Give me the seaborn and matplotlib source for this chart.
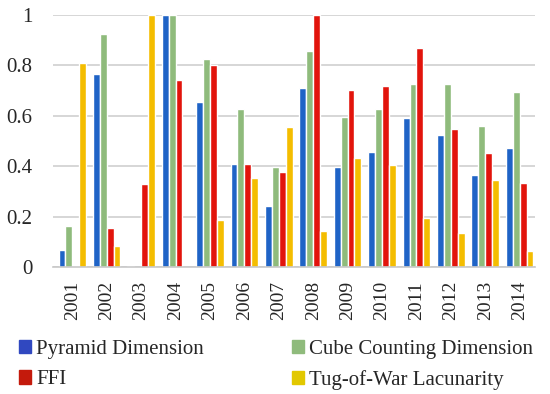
import numpy as np
import pandas as pd
import seaborn as sns
import matplotlib.pyplot as plt
from matplotlib.patches import Patch

years = ['2001', '2002', '2003', '2004', '2005', '2006', '2007',
         '2008', '2009', '2010', '2011', '2012', '2013', '2014']
pyramid = [0.069, 0.766, 0.003, 1.0, 0.656, 0.409, 0.242,
           0.711, 0.398, 0.456, 0.590, 0.523, 0.364, 0.471]
cube = [0.163, 0.926, 0.0, 1.0, 0.825, 0.628, 0.396,
        0.858, 0.594, 0.628, 0.727, 0.727, 0.560, 0.693]
ffi = [0.005, 0.155, 0.331, 0.742, 0.801, 0.409, 0.377,
       1.0, 0.703, 0.719, 0.870, 0.548, 0.451, 0.334]
tug = [0.81, 0.082, 1.0, 0.0, 0.185, 0.354, 0.555,
       0.145, 0.432, 0.406, 0.194, 0.137, 0.347, 0.0625]

series = ['Pyramid Dimension', 'Cube Counting Dimension', 'FFI', 'Tug-of-War Lacunarity']
colors = ['#1f63c6', '#8fbb7c', '#e2140c', '#f4bd00']
legend_colors = ['#3048c0', '#8fbb7c', '#c41a0c', '#e2c800']

df = pd.DataFrame({'year': years * 4,
                   'value': pyramid + cube + ffi + tug,
                   'series': np.repeat(series, len(years))})

sns.set_style('white')
plt.rcParams['font.family'] = ['Liberation Serif', 'DejaVu Serif']

fig = plt.figure(figsize=(5.5, 3.94), dpi=100)
ax = fig.add_axes([0.097, 0.322, 0.876, 0.64])
sns.barplot(data=df, x='year', y='value', hue='series', palette=colors,
            width=0.8, ax=ax, legend=False, saturation=1)

ax.set_ylim(0, 1.0)
ax.set_yticks([0, 0.2, 0.4, 0.6, 0.8, 1.0])
ax.set_yticklabels(['0', '0.2', '0.4', '0.6', '0.8', '1'], fontsize=15)
ax.set_xlabel('')
ax.set_ylabel('')
ax.tick_params(axis='x', labelrotation=90, labelsize=14, length=0, pad=10)
ax.tick_params(axis='y', length=0, pad=15)
ax.grid(axis='y', color='#d0d0d0', linewidth=1.2)
ax.set_axisbelow(True)
for s in ['top', 'right', 'left']:
    ax.spines[s].set_visible(False)
ax.spines['bottom'].set_color('#c8c8c8')
ax.spines['bottom'].set_linewidth(1.2)
ax.set_xlim(-0.55, 13.45)

handles = [Patch(color=c, label=l) for c, l in zip(legend_colors, series)]
order = [0, 2, 1, 3]
fig.legend([handles[i] for i in order], [series[i] for i in order],
           ncol=2, loc='lower left', bbox_to_anchor=(0.0, -0.038), frameon=False,
           fontsize=15, handlelength=0.6, handleheight=0.6, handletextpad=0.25,
           columnspacing=4.2, labelspacing=0.55)

plt.savefig('out.png', dpi=100)
